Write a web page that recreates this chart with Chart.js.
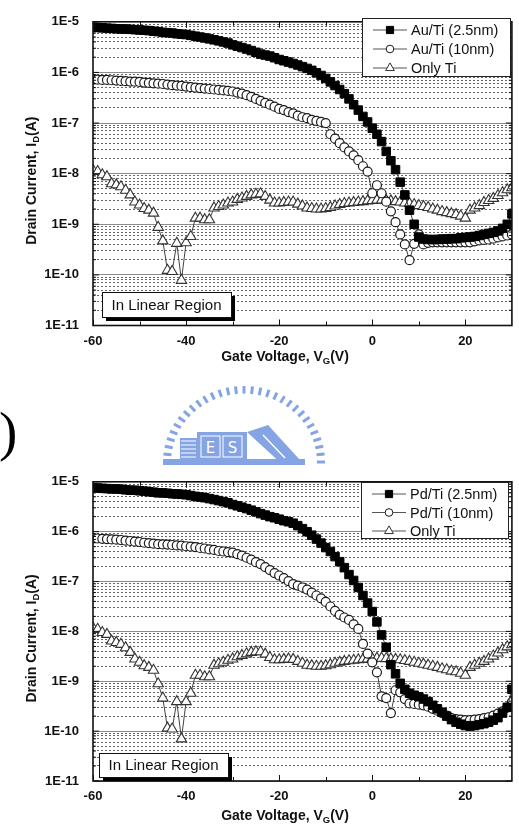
<!DOCTYPE html>
<html>
<head>
<meta charset="utf-8">
<script src="https://cdn.jsdelivr.net/npm/chart.js@4.4.1/dist/chart.umd.min.js"></script>
<style>
  body { margin: 0; background: #fff; width: 519px; height: 833px; overflow: hidden; position: relative; font-family: 'Liberation Sans', Arial, sans-serif; }
  canvas { position: absolute; left: 0; }
  #topChart { top: 0; }
  #botChart { top: 460px; }
  .paren { position: absolute; left: -1px; top: 404px; font: 55px/55px 'Liberation Serif', 'DejaVu Serif', serif; color: #000; }
  #logo { position: absolute; left: 155px; top: 380px; }
</style>
</head>
<body>
<canvas id="topChart" width="519" height="370"></canvas>
<div class="paren">)</div>
<svg id="logo" width="180" height="95" viewBox="0 0 180 95"></svg>
<canvas id="botChart" width="519" height="373"></canvas>
<script>
// gate voltage sweep, 1 V per point
const volts = [-60,-59,-58,-57,-56,-55,-54,-53,-52,-51,-50,-49,-48,-47,-46,-45,-44,-43,-42,-41,
  -40,-39,-38,-37,-36,-35,-34,-33,-32,-31,-30,-29,-28,-27,-26,-25,-24,-23,-22,-21,
  -20,-19,-18,-17,-16,-15,-14,-13,-12,-11,-10,-9,-8,-7,-6,-5,-4,-3,-2,-1,
  0,1,2,3,4,5,6,7,8,9,10,11,12,13,14,15,16,17,18,19,20,21,22,23,24,25,26,27,28,29,30];

// top panel: Au/Ti
const auTi25 = [7.8e-6,7.7e-6,7.6e-6,7.5e-6,7.4e-6,7.3e-6,7.2e-6,7.2e-6,7.1e-6,7.0e-6,
  6.9e-6,6.8e-6,6.7e-6,6.5e-6,6.4e-6,6.2e-6,6.1e-6,6.0e-6,5.8e-6,5.7e-6,
  5.6e-6,5.4e-6,5.2e-6,5.0e-6,4.8e-6,4.6e-6,4.4e-6,4.2e-6,4.0e-6,3.8e-6,
  3.5e-6,3.3e-6,3.1e-6,2.9e-6,2.7e-6,2.5e-6,2.3e-6,2.2e-6,2.1e-6,1.95e-6,
  1.8e-6,1.7e-6,1.6e-6,1.5e-6,1.4e-6,1.3e-6,1.2e-6,1.1e-6,9.8e-7,8.7e-7,
  7.6e-7,6.5e-7,5.5e-7,4.6e-7,3.8e-7,3.0e-7,2.3e-7,1.8e-7,1.35e-7,1.05e-7,
  7.9e-8,6.0e-8,4.3e-8,2.75e-8,1.8e-8,1.2e-8,6.8e-9,3.8e-9,1.9e-9,1.0e-9,
  5.6e-10,5.1e-10,5.0e-10,5.0e-10,5.0e-10,5.1e-10,5.1e-10,5.2e-10,5.2e-10,5.4e-10,
  5.5e-10,5.6e-10,5.75e-10,6.0e-10,6.3e-10,6.6e-10,6.9e-10,7.4e-10,8.3e-10,1.0e-9,1.6e-9];
const auTi10 = [7.2e-7,7.2e-7,7.1e-7,7.1e-7,7.0e-7,6.9e-7,6.8e-7,6.7e-7,6.6e-7,6.55e-7,
  6.5e-7,6.3e-7,6.2e-7,6.1e-7,6.0e-7,5.9e-7,5.75e-7,5.6e-7,5.5e-7,5.4e-7,
  5.25e-7,5.1e-7,5.0e-7,4.9e-7,4.8e-7,4.7e-7,4.6e-7,4.5e-7,4.4e-7,4.3e-7,
  4.2e-7,4.0e-7,3.8e-7,3.55e-7,3.3e-7,3.0e-7,2.75e-7,2.5e-7,2.3e-7,2.1e-7,
  1.9e-7,1.8e-7,1.65e-7,1.55e-7,1.4e-7,1.3e-7,1.25e-7,1.15e-7,1.1e-7,1.05e-7,
  1.0e-7,6.0e-8,4.9e-8,4.0e-8,3.3e-8,2.75e-8,2.3e-8,1.85e-8,1.4e-8,1.1e-8,
  4.1e-9,5.9e-9,4.1e-9,2.8e-9,1.8e-9,1.1e-9,6.3e-10,4.0e-10,1.95e-10,4.1e-10,
  6.3e-10,4.0e-10,4.3e-10,4.4e-10,4.4e-10,4.4e-10,4.4e-10,4.4e-10,4.4e-10,4.4e-10,
  4.4e-10,4.4e-10,4.6e-10,4.8e-10,4.9e-10,5.0e-10,5.2e-10,5.5e-10,5.75e-10,6.0e-10,6.3e-10];
const onlyTiA = [1.17e-8,1.1e-8,9.5e-9,8.7e-9,6.3e-9,6.0e-9,5.5e-9,4.7e-9,3.8e-9,2.75e-9,
  2.4e-9,2.05e-9,1.9e-9,1.66e-9,8.7e-10,4.7e-10,1.23e-10,1.17e-10,4.2e-10,7.8e-11,
  4.3e-10,5.75e-10,1.32e-9,1.32e-9,1.23e-9,1.23e-9,2.1e-9,2.24e-9,2.4e-9,2.63e-9,
  2.75e-9,3.1e-9,3.3e-9,3.55e-9,3.8e-9,3.9e-9,4.0e-9,3.55e-9,3.0e-9,2.63e-9,
  2.63e-9,2.7e-9,2.75e-9,2.75e-9,2.5e-9,2.3e-9,2.1e-9,2.05e-9,2.0e-9,2.0e-9,
  2.05e-9,2.15e-9,2.3e-9,2.45e-9,2.57e-9,2.63e-9,2.7e-9,2.75e-9,2.8e-9,2.9e-9,
  2.95e-9,3.0e-9,3.0e-9,2.95e-9,2.9e-9,2.8e-9,2.75e-9,2.63e-9,2.57e-9,2.45e-9,
  2.34e-9,2.24e-9,2.15e-9,2.0e-9,1.9e-9,1.78e-9,1.7e-9,1.62e-9,1.55e-9,1.45e-9,
  1.32e-9,1.9e-9,2.1e-9,2.34e-9,2.7e-9,2.95e-9,3.24e-9,3.7e-9,4.2e-9,4.8e-9,5.25e-9];

// bottom panel: Pd/Ti
const pdTi25 = [7.6e-6,7.5e-6,7.4e-6,7.3e-6,7.2e-6,7.2e-6,7.1e-6,6.9e-6,6.8e-6,6.8e-6,
  6.6e-6,6.5e-6,6.3e-6,6.2e-6,6.0e-6,6.0e-6,5.9e-6,5.75e-6,5.7e-6,5.6e-6,
  5.5e-6,5.3e-6,5.1e-6,4.95e-6,4.8e-6,4.6e-6,4.4e-6,4.2e-6,4.0e-6,3.8e-6,
  3.5e-6,3.3e-6,3.1e-6,2.9e-6,2.7e-6,2.5e-6,2.3e-6,2.15e-6,2.0e-6,1.9e-6,
  1.78e-6,1.66e-6,1.58e-6,1.48e-6,1.32e-6,1.15e-6,1.0e-6,8.5e-7,7.1e-7,5.9e-7,
  4.8e-7,4.0e-7,3.16e-7,2.5e-7,1.9e-7,1.38e-7,1.05e-7,7.6e-8,5.25e-8,3.7e-8,
  2.5e-8,1.55e-8,8.5e-9,4.8e-9,2.15e-9,1.41e-9,9.1e-10,6.9e-10,5.75e-10,5.25e-10,
  4.9e-10,4.4e-10,3.9e-10,3.3e-10,2.8e-10,2.4e-10,2.0e-10,1.7e-10,1.51e-10,1.38e-10,
  1.29e-10,1.26e-10,1.29e-10,1.35e-10,1.41e-10,1.51e-10,1.66e-10,1.86e-10,2.3e-10,3.0e-10,6.9e-10];
const pdTi10 = [7.4e-7,7.3e-7,7.2e-7,7.1e-7,7.0e-7,6.9e-7,6.8e-7,6.6e-7,6.5e-7,6.3e-7,
  6.2e-7,6.0e-7,5.9e-7,5.75e-7,5.6e-7,5.55e-7,5.5e-7,5.4e-7,5.3e-7,5.25e-7,
  5.1e-7,5.0e-7,4.9e-7,4.7e-7,4.6e-7,4.4e-7,4.3e-7,4.1e-7,4.0e-7,3.9e-7,
  3.8e-7,3.55e-7,3.3e-7,3.0e-7,2.75e-7,2.45e-7,2.24e-7,1.95e-7,1.7e-7,1.48e-7,
  1.32e-7,1.17e-7,1.02e-7,8.9e-8,8.3e-8,7.6e-8,6.9e-8,6.0e-8,5.25e-8,4.6e-8,
  3.9e-8,3.16e-8,2.57e-8,2.15e-8,1.9e-8,1.7e-8,1.38e-8,1.12e-8,5.6e-9,3.6e-9,
  2.4e-9,1.51e-9,5.0e-10,4.6e-10,2.3e-10,6.6e-10,6.0e-10,4.4e-10,3.6e-10,3.5e-10,
  3.4e-10,3.3e-10,3.1e-10,2.8e-10,2.57e-10,2.3e-10,2.05e-10,1.82e-10,1.74e-10,1.7e-10,
  1.66e-10,1.66e-10,1.7e-10,1.74e-10,1.82e-10,1.9e-10,2.05e-10,2.24e-10,2.5e-10,2.95e-10,3.8e-10];
const onlyTiB = [1.17e-8,1.1e-8,9.5e-9,8.7e-9,6.4e-9,6.0e-9,5.5e-9,4.7e-9,3.8e-9,2.8e-9,
  2.4e-9,2.05e-9,1.9e-9,1.66e-9,8.9e-10,4.6e-10,1.15e-10,1.1e-10,3.9e-10,7.0e-11,
  3.9e-10,5.75e-10,1.32e-9,1.32e-9,1.23e-9,1.23e-9,2.1e-9,2.24e-9,2.4e-9,2.63e-9,
  2.8e-9,3.1e-9,3.3e-9,3.55e-9,3.8e-9,3.9e-9,3.9e-9,3.5e-9,3.0e-9,2.7e-9,
  2.7e-9,2.75e-9,2.8e-9,2.75e-9,2.5e-9,2.3e-9,2.1e-9,2.05e-9,2.0e-9,2.0e-9,
  2.05e-9,2.15e-9,2.3e-9,2.4e-9,2.5e-9,2.57e-9,2.63e-9,2.7e-9,2.75e-9,2.8e-9,
  2.85e-9,2.9e-9,2.9e-9,2.85e-9,2.8e-9,2.75e-9,2.7e-9,2.6e-9,2.5e-9,2.4e-9,
  2.3e-9,2.2e-9,2.1e-9,2.0e-9,1.9e-9,1.78e-9,1.7e-9,1.6e-9,1.55e-9,1.45e-9,
  1.32e-9,1.9e-9,2.1e-9,2.3e-9,2.5e-9,2.8e-9,3.2e-9,3.7e-9,4.3e-9,4.9e-9,5.4e-9];

const topLabels = ['Au/Ti (2.5nm)', 'Au/Ti (10nm)', 'Only Ti'];
const botLabels = ['Pd/Ti (2.5nm)', 'Pd/Ti (10nm)', 'Only Ti'];
const xTickValues = [-60, -40, -20, 0, 20];
const xMinorValues = [-50, -30, -10, 10];
const yDecades = [1e-11, 1e-10, 1e-9, 1e-8, 1e-7, 1e-6, 1e-5];
const yTickLabels = ['1E-11', '1E-10', '1E-9', '1E-8', '1E-7', '1E-6', '1E-5'];
const noteText = 'In Linear Region';

const FONT = "'Liberation Sans', Arial, sans-serif";

// log grid: 1..9 of every decade
const yGrid = [];
yDecades.forEach((d, i) => {
    for (let m = 1; m < 10; m++) {
        if (i === yDecades.length - 1 && m > 1) break;
        yGrid.push(m * d);
    }
});
const isMajor = v => yDecades.some(d => Math.abs(v - d) / d < 1e-6);

function drawRich(ctx, parts, cx, cy) {
    const main = `bold 14px ${FONT}`, sub = `bold 9.5px ${FONT}`;
    let w = 0;
    parts.forEach(p => { ctx.font = p.sub ? sub : main; w += ctx.measureText(p.t).width; });
    let x = cx - w / 2;
    ctx.textAlign = 'left';
    ctx.textBaseline = 'middle';
    parts.forEach(p => {
        ctx.font = p.sub ? sub : main;
        ctx.fillText(p.t, x, cy + (p.sub ? 4 : 0));
        x += ctx.measureText(p.t).width;
    });
}

const frameDecor = {
    id: 'frameDecor',
    afterDatasetsDraw(chart, args, o) {
        const { ctx, chartArea: a } = chart;
        const sx = chart.scales.x, sy = chart.scales.y;
        const line = (x1, y1, x2, y2) => { ctx.beginPath(); ctx.moveTo(x1, y1); ctx.lineTo(x2, y2); ctx.stroke(); };
        ctx.save();
        ctx.strokeStyle = '#111';
        ctx.lineWidth = 1;
        xTickValues.concat(xMinorValues).forEach(v => {
            const px = Math.round(sx.getPixelForValue(v)) + 0.5;
            const len = xTickValues.includes(v) ? 6 : 4;
            line(px, a.bottom, px, a.bottom - len);
            line(px, a.top, px, a.top + len);
        });
        yGrid.forEach(v => {
            const py = sy.getPixelForValue(v);
            const len = isMajor(v) ? 6 : 3;
            line(a.left, py, a.left + len, py);
            line(a.right, py, a.right - len, py);
        });
        ctx.lineWidth = 1.6;
        ctx.strokeRect(a.left, a.top, a.right - a.left, a.bottom - a.top);

        // legend
        const L = o.legend;
        ctx.fillStyle = '#fff';
        ctx.fillRect(L.x, L.y, L.w, L.h);
        ctx.lineWidth = 1;
        ctx.strokeStyle = '#222';
        ctx.strokeRect(L.x + 0.5, L.y + 0.5, L.w, L.h);
        chart.data.datasets.forEach((ds, i) => {
            const ry = L.y + L.row0 + i * L.step;
            ctx.strokeStyle = '#555';
            ctx.lineWidth = 1;
            line(L.x + 11, ry, L.x + 45, ry);
            ctx.fillStyle = ds.pointBackgroundColor;
            ctx.strokeStyle = ds.pointBorderColor;
            Chart.helpers.drawPoint(ctx, { pointStyle: ds.pointStyle, radius: ds.pointRadius * 0.85, borderWidth: 1, rotation: 0 }, L.x + 28, ry);
            ctx.fillStyle = '#111';
            ctx.font = `14.5px ${FONT}`;
            ctx.textAlign = 'left';
            ctx.textBaseline = 'middle';
            ctx.fillText(ds.label, L.x + 49, ry + 1);
        });

        // note box with drop shadow
        const N = o.note;
        ctx.fillStyle = '#000';
        ctx.fillRect(N.x + 4, N.y + 4, N.w, N.h);
        ctx.fillStyle = '#fff';
        ctx.fillRect(N.x, N.y, N.w, N.h);
        ctx.strokeStyle = '#111';
        ctx.lineWidth = 1;
        ctx.strokeRect(N.x + 0.5, N.y + 0.5, N.w, N.h);
        ctx.fillStyle = '#111';
        ctx.font = `15px ${FONT}`;
        ctx.textAlign = 'center';
        ctx.fillText(noteText, N.x + N.w / 2, N.y + N.h / 2 + 1);
        ctx.restore();
    },
    afterDraw(chart, args, o) {
        const { ctx, chartArea: a } = chart;
        ctx.save();
        ctx.fillStyle = '#111';
        drawRich(ctx, [{ t: 'Gate Voltage, V' }, { t: 'G', sub: true }, { t: '(V)' }], o.xTitle.x, o.xTitle.y);
        ctx.translate(32, (a.top + a.bottom) / 2 + 7);
        ctx.rotate(-Math.PI / 2);
        drawRich(ctx, [{ t: 'Drain Current, I' }, { t: 'D', sub: true }, { t: '(A)' }], 0, 0);
        ctx.restore();
    }
};

const markerStyles = [
    { pointStyle: 'rect', pointRadius: 6, pointBackgroundColor: '#000', pointBorderColor: '#000', pointBorderWidth: 1 },
    { pointStyle: 'circle', pointRadius: 4.5, pointBackgroundColor: '#fff', pointBorderColor: '#1a1a1a', pointBorderWidth: 1.2 },
    { pointStyle: 'triangle', pointRadius: 6, pointBackgroundColor: '#fff', pointBorderColor: '#333', pointBorderWidth: 1.1 }
];

function makeChart(id, series, labels, deco) {
    return new Chart(document.getElementById(id), {
        type: 'line',
        data: {
            datasets: series.map((s, i) => ({
                label: labels[i],
                data: volts.map((v, k) => ({ x: v, y: s[k] })),
                borderColor: '#444',
                borderWidth: 1,
                tension: 0,
                ...markerStyles[i]
            }))
        },
        options: {
            responsive: false,
            animation: false,
            devicePixelRatio: 1,
            layout: { padding: { top: deco.top, right: 7, left: 0, bottom: 0 } },
            plugins: { legend: { display: false }, tooltip: { enabled: false }, frameDecor: deco },
            scales: {
                x: {
                    type: 'linear', min: -60, max: 30,
                    afterBuildTicks: s => { s.ticks = xTickValues.map(v => ({ value: v })); },
                    afterFit: s => { s.height = deco.xHeight; },
                    grid: { display: false, drawTicks: false },
                    border: { display: false },
                    ticks: { padding: 8, color: '#111', font: { family: FONT, size: 13, weight: 'bold' }, callback: v => String(v) }
                },
                y: {
                    type: 'logarithmic', min: 1e-11, max: 1e-5,
                    afterBuildTicks: s => { s.ticks = yGrid.map(v => ({ value: v })); },
                    afterFit: s => { s.width = 93; },
                    grid: {
                        drawTicks: false,
                        lineWidth: 1,
                        color: c => (c.tick && !isMajor(c.tick.value)) ? '#666' : '#8c8c8c'
                    },
                    border: { display: false, dash: c => (c.tick && !isMajor(c.tick.value)) ? [2, 2] : [] },
                    ticks: {
                        autoSkip: false, padding: 14, color: '#111',
                        font: { family: FONT, size: 13, weight: 'bold' },
                        callback: v => {
                            const i = yDecades.findIndex(d => Math.abs(v - d) / d < 1e-6);
                            return i < 0 ? '' : yTickLabels[i];
                        }
                    }
                }
            }
        },
        plugins: [frameDecor]
    });
}

makeChart('topChart', [auTi25, auTi10, onlyTiA], topLabels, {
    top: 17.5, xHeight: 44.5,
    legend: { x: 362, y: 18, w: 148, h: 58, row0: 12, step: 19 },
    note: { x: 102, y: 292, w: 129, h: 25 },
    xTitle: { x: 285, y: 357 }
});
makeChart('botChart', [pdTi25, pdTi10, onlyTiB], botLabels, {
    top: 16, xHeight: 52,
    legend: { x: 361, y: 22, w: 147, h: 56, row0: 12, step: 18.5 },
    note: { x: 99, y: 293, w: 129, h: 24 },
    xTitle: { x: 285, y: 356 }
});

// faint institutional watermark between the panels
(function drawLogo() {
    const svg = document.getElementById('logo');
    const ns = 'http://www.w3.org/2000/svg';
    const add = (tag, attrs) => {
        const el = document.createElementNS(ns, tag);
        Object.entries(attrs).forEach(([k, v]) => el.setAttribute(k, v));
        svg.appendChild(el);
        return el;
    };
    const col = '#84a4e4';
    const cx = 89, cy = 82, rx = 81, ry = 76;
    for (let k = 0; k <= 30; k++) {
        const t = Math.PI + (k / 30) * Math.PI;
        add('line', {
            x1: cx + Math.cos(t) * rx * 0.9, y1: cy + Math.sin(t) * ry * 0.9,
            x2: cx + Math.cos(t) * rx, y2: cy + Math.sin(t) * ry,
            stroke: col, 'stroke-width': 3
        });
    }
    add('rect', { x: 8, y: 79, width: 142, height: 6, fill: col });
    add('rect', { x: 25, y: 58, width: 17, height: 21, fill: col });
    for (let k = 0; k < 5; k++) add('line', { x1: 26, y1: 61 + k * 4, x2: 41, y2: 61 + k * 4, stroke: '#fff', 'stroke-width': 1 });
    add('rect', { x: 42, y: 52, width: 50, height: 27, fill: col });
    add('rect', { x: 46, y: 56, width: 19, height: 21, fill: 'none', stroke: '#fff', 'stroke-width': 1 });
    add('rect', { x: 68, y: 56, width: 19, height: 21, fill: 'none', stroke: '#fff', 'stroke-width': 1 });
    const tE = add('text', { x: 55.5, y: 73, 'text-anchor': 'middle', fill: '#fff', 'font-size': 15, 'font-family': 'DejaVu Sans' });
    tE.textContent = 'E';
    const tS = add('text', { x: 77.5, y: 73, 'text-anchor': 'middle', fill: '#fff', 'font-size': 15, 'font-family': 'DejaVu Sans' });
    tS.textContent = 'S';
    add('polygon', { points: '92,52 113,45 145,80 128,85', fill: col });
    add('line', { x1: 108, y1: 55, x2: 130, y2: 78, stroke: '#fff', 'stroke-width': 1.5 });
})();
</script>
</body>
</html>
